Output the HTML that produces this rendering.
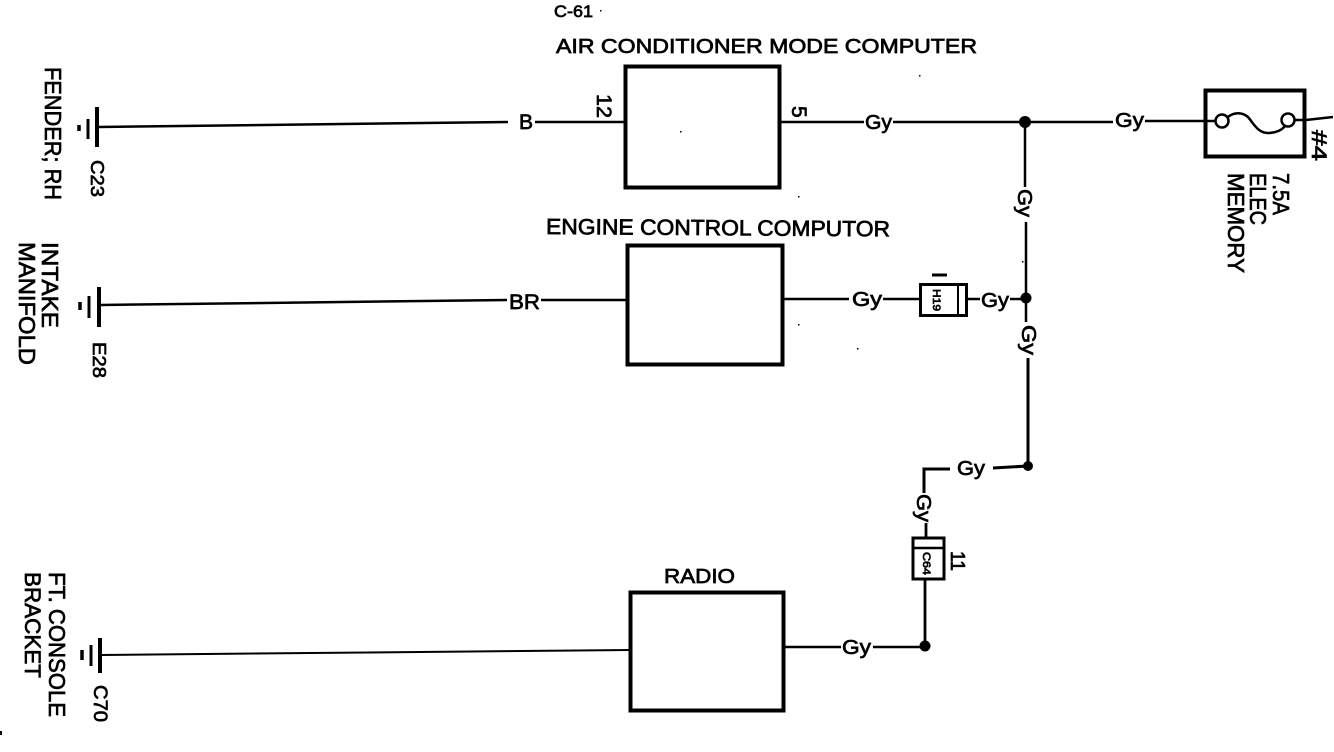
<!DOCTYPE html>
<html><head><meta charset="utf-8"><style>
html,body{margin:0;padding:0;background:#fff}
svg{display:block}
text{font-family:"Liberation Sans",sans-serif;fill:#000;font-weight:400;stroke:#000;stroke-width:.7}
</style></head><body>
<svg width="1334" height="752" viewBox="0 0 1334 752" xmlns="http://www.w3.org/2000/svg">
<g fill="none" stroke="#000" stroke-linecap="butt">
<!-- boxes -->
<rect x="625.5" y="66.5" width="154" height="121" stroke-width="4"/>
<rect x="627.5" y="245.5" width="155" height="119" stroke-width="4"/>
<rect x="630.5" y="592.5" width="153" height="118" stroke-width="4"/>
<!-- ground 1 -->
<path d="M97 107V147" stroke-width="4"/><path d="M88 119V139" stroke-width="3"/><path d="M79 125V131" stroke-width="3.5"/>
<path d="M98 127L508 122" stroke-width="2.5"/><path d="M535 122H625" stroke-width="2.5"/>
<!-- ground 2 -->
<path d="M99 287V327" stroke-width="4"/><path d="M89 296V318" stroke-width="3"/><path d="M80 302V310" stroke-width="3.5"/>
<path d="M100 305L507 300" stroke-width="2.5"/><path d="M541 300H627" stroke-width="2.5"/>
<!-- ground 3 -->
<path d="M100 638V673" stroke-width="4"/><path d="M91 645V666" stroke-width="3"/><path d="M82 650V660" stroke-width="3.5"/>
<path d="M101 655L630 650" stroke-width="2"/>
<!-- top wire -->
<path d="M781 122H864M893 122H1113M1145 121H1216" stroke-width="2.5"/>
<path d="M1294 120H1306L1333 117" stroke-width="2.5"/>
<path d="M1025 122V187M1026 222V298V322" stroke-width="2.5"/>
<path d="M1028 358V466" stroke-width="3"/>
<!-- H19 -->
<path d="M783 299H849M883 299H920M967 299H980M1010 299H1026" stroke-width="2.5"/>
<rect x="920.5" y="284.5" width="46" height="31" stroke-width="3"/>
<path d="M958 285V315" stroke-width="2"/>
<path d="M932 275H947" stroke-width="3"/>
<!-- Lower wires -->
<path d="M1028 466L993 468M950 469H924V493" stroke-width="3"/>
<path d="M926 523V538M925 580V646" stroke-width="2.8"/>
<path d="M785 647H841M873 647H925" stroke-width="2.5"/>
<rect x="913" y="538" width="31" height="41" stroke-width="3"/>
<path d="M913 548H944" stroke-width="2.5"/>
<!-- Fuse -->
<rect x="1205.5" y="90.5" width="99" height="66" stroke-width="4"/>
<circle cx="1222" cy="121" r="6.5" stroke-width="2.5"/>
<circle cx="1288" cy="120" r="6.5" stroke-width="2.5"/>
<path d="M1228 117C1234 112 1242 112 1248 117C1254 124 1258 133 1268 133C1276 133 1282 130 1285 126" stroke-width="2.5"/>
</g>
<g fill="#000">
<circle cx="1025" cy="122" r="6"/>
<circle cx="1026" cy="298" r="5.5"/>
<circle cx="1028" cy="466" r="5"/>
<circle cx="925" cy="646" r="5.5"/>
<rect x="600" y="10" width="1.5" height="1.5"/>
<rect x="680" y="131" width="1.5" height="1.5"/>
<rect x="798" y="196" width="1.5" height="1.5"/>
<rect x="919" y="75" width="1.5" height="1.5"/>
<rect x="798" y="324" width="1.5" height="1.5"/>
<rect x="857" y="348" width="1.5" height="1.5"/>
<rect x="1022" y="261" width="1.5" height="1.5"/>
<rect x="0" y="731" width="2" height="4"/>
</g>
<!-- horizontal labels -->
<text x="554" y="17" font-size="17" textLength="39" lengthAdjust="spacingAndGlyphs">C-61</text>
<text x="556" y="53" font-size="20" textLength="421" lengthAdjust="spacingAndGlyphs">AIR CONDITIONER MODE COMPUTER</text>
<text x="546" y="234" font-size="22" textLength="344" lengthAdjust="spacingAndGlyphs" transform="rotate(.4 546 234)">ENGINE CONTROL COMPUTOR</text>
<text x="664" y="583" font-size="20" textLength="71" lengthAdjust="spacingAndGlyphs">RADIO</text>
<text x="519" y="129" font-size="21">B</text>
<text x="509" y="309" font-size="21" textLength="31" lengthAdjust="spacingAndGlyphs">BR</text>
<text x="865" y="129" font-size="20" textLength="27" lengthAdjust="spacingAndGlyphs">Gy</text>
<text x="1115" y="127" font-size="20" textLength="29" lengthAdjust="spacingAndGlyphs">Gy</text>
<text x="852" y="306" font-size="20" textLength="30" lengthAdjust="spacingAndGlyphs">Gy</text>
<text x="981" y="307" font-size="20" textLength="28" lengthAdjust="spacingAndGlyphs">Gy</text>
<text x="957" y="475" font-size="20" textLength="28" lengthAdjust="spacingAndGlyphs">Gy</text>
<text x="842" y="654" font-size="20" textLength="29" lengthAdjust="spacingAndGlyphs">Gy</text>
<!-- rotated labels -->
<text transform="translate(45 67) rotate(90)" font-size="23" textLength="133" lengthAdjust="spacingAndGlyphs">FENDER; RH</text>
<text transform="translate(91 160) rotate(90)" font-size="18" textLength="37" lengthAdjust="spacingAndGlyphs">C23</text>
<text transform="translate(42 242) rotate(90)" font-size="23" textLength="86" lengthAdjust="spacingAndGlyphs">INTAKE</text>
<text transform="translate(19 242) rotate(90)" font-size="23" textLength="123" lengthAdjust="spacingAndGlyphs">MANIFOLD</text>
<text transform="translate(93 342) rotate(90)" font-size="18" textLength="36" lengthAdjust="spacingAndGlyphs">E28</text>
<text transform="translate(49 572) rotate(90)" font-size="23" textLength="145" lengthAdjust="spacingAndGlyphs">FT. CONSOLE</text>
<text transform="translate(25 572) rotate(90)" font-size="22" textLength="106" lengthAdjust="spacingAndGlyphs">BRACKET</text>
<text transform="translate(94 685) rotate(90)" font-size="19" textLength="37" lengthAdjust="spacingAndGlyphs">C70</text>
<text transform="translate(597 94) rotate(90)" font-size="21" textLength="24" lengthAdjust="spacingAndGlyphs">12</text>
<text transform="translate(792 106) rotate(90)" font-size="21">5</text>
<text transform="translate(1018 189) rotate(90)" font-size="20" textLength="28" lengthAdjust="spacingAndGlyphs">Gy</text>
<text transform="translate(1022 325) rotate(90)" font-size="20" textLength="30" lengthAdjust="spacingAndGlyphs">Gy</text>
<text transform="translate(917 494) rotate(90)" font-size="20" textLength="28" lengthAdjust="spacingAndGlyphs">Gy</text>
<text transform="translate(933 289) rotate(90)" font-size="11" textLength="22" lengthAdjust="spacingAndGlyphs">H19</text>
<text transform="translate(923 552) rotate(90)" font-size="11" textLength="23" lengthAdjust="spacingAndGlyphs">C64</text>
<text transform="translate(951 551) rotate(90)" font-size="20" textLength="20" lengthAdjust="spacingAndGlyphs">11</text>
<text transform="translate(1312 130) rotate(90)" font-size="21" textLength="31" lengthAdjust="spacingAndGlyphs">#4</text>
<text transform="translate(1273 173) rotate(90)" font-size="23" textLength="42" lengthAdjust="spacingAndGlyphs">7.5A</text>
<text transform="translate(1250 173) rotate(90)" font-size="23" textLength="52" lengthAdjust="spacingAndGlyphs">ELEC</text>
<text transform="translate(1228 173) rotate(90)" font-size="23" textLength="100" lengthAdjust="spacingAndGlyphs">MEMORY</text>
</svg>
</body></html>
